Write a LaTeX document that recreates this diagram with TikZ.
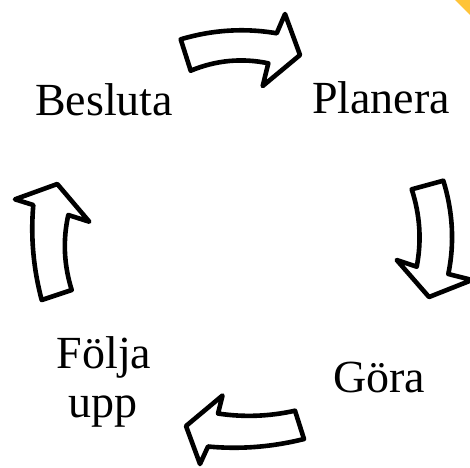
\documentclass[tikz,border=0pt]{standalone}
\usepackage{fontspec}
\setmainfont{Liberation Serif}
\definecolor{cornerYellow}{RGB}{255,196,56}
\begin{document}
\begin{tikzpicture}[x=1pt,y=-1pt,
  cyclearrow/.style={draw=black,fill=white,line width=4.6pt,line join=round},
  lbl/.style={font=\fontsize{46}{49}\selectfont,inner sep=0pt,anchor=base west}]
\useasboundingbox (0,0) rectangle (470,467);
\fill[white] (0,0) rectangle (470,467);
% yellow corner
\fill[cornerYellow] (455,0) -- (470,0) -- (470,15) -- cycle;
% labels
\node[lbl] (besluta) at (35,115) {Besluta};
\node[lbl] (planera) at (312,113) {Planera};
\node[lbl] (gora) at (333,392) {Göra};
\node[lbl,anchor=base] (folja) at (104,368) {Följa};
\node[lbl,anchor=base] (upp) at (103,417) {upp};
% top arrow (Besluta -> Planera)
\draw[cyclearrow] (180.7,39.3) .. controls (212.7,29.8) and (244.7,27.8) .. (276.7,33.3)
  -- (285,14) -- (300,55) -- (262.7,86) -- (268.3,63.3)
  .. controls (242,57.8) and (216,60.2) .. (190.7,70.7) -- cycle;
% right arrow (Planera -> Göra)
\draw[cyclearrow] (411.7,189.3) -- (443.3,180.7)
  .. controls (453,212) and (454.6,243.6) .. (448.3,274)
  -- (472,280) -- (429,297) -- (396.7,260) -- (416.7,266.7)
  .. controls (421.7,240.9) and (420.1,215.1) .. (411.7,189.3) -- cycle;
% bottom arrow (Göra -> Följa upp)
\draw[cyclearrow] (295,410.7) -- (304,439)
  .. controls (272,447) and (240,449.5) .. (208,446.5)
  -- (200,464) -- (186,426) -- (222.5,395.5) -- (218,413.5)
  .. controls (243.7,417.4) and (269.3,416.4) .. (295,410.7) -- cycle;
% left arrow (Följa upp -> Besluta)
\draw[cyclearrow] (41.7,300) -- (71.7,290)
  .. controls (63.9,265) and (62.7,240) .. (68.3,215)
  -- (89.3,221.7) -- (57.3,184) -- (15,199.3) -- (33.3,205)
  .. controls (30.5,236.7) and (33.3,268.3) .. (41.7,300) -- cycle;
\end{tikzpicture}
\end{document}
